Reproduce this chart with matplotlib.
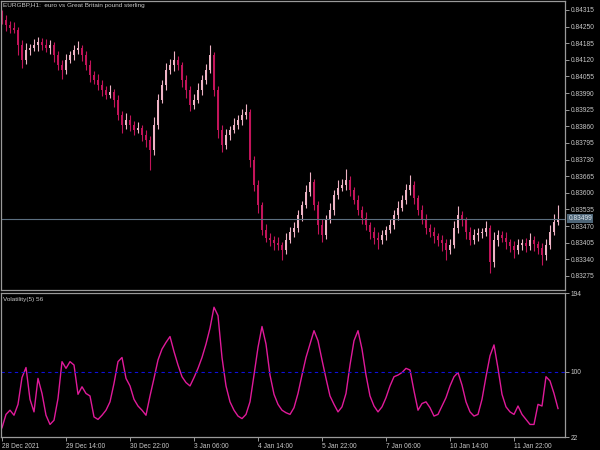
import matplotlib
matplotlib.use("Agg")
import matplotlib.pyplot as plt
import numpy as np

# EURGBP H1 closes, in points (price * 1e5), one value per drawn bar
closes = [84276, 84256, 84245, 84237, 84178, 84119, 84158, 84166, 84178, 84190,
          84178, 84166, 84178, 84139, 84100, 84080, 84119, 84139, 84158, 84166,
          84139, 84100, 84061, 84041, 84022, 84002, 83983, 83994, 83963, 83904,
          83865, 83885, 83865, 83846, 83854, 83826, 83807, 83767, 83865, 83963,
          84022, 84080, 84100, 84119, 84100, 84041, 84002, 83943, 83963, 84002,
          84041, 84080, 84139, 84002, 83846, 83787, 83826, 83846, 83865, 83885,
          83904, 83916, 83728, 83631, 83552, 83455, 83423, 83416, 83404, 83396,
          83376, 83416, 83447, 83463, 83513, 83552, 83603, 83642, 83552, 83474,
          83435, 83494, 83533, 83592, 83619, 83631, 83650, 83611, 83572, 83533,
          83502, 83474, 83447, 83423, 83416, 83435, 83455, 83474, 83513, 83541,
          83572, 83611, 83631, 83580, 83533, 83494, 83463, 83447, 83431, 83416,
          83404, 83376, 83396, 83463, 83513, 83494, 83447, 83416, 83435, 83443,
          83447, 83463, 83330, 83416, 83435, 83423, 83408, 83392, 83376, 83396,
          83404, 83392, 83416, 83400, 83384, 83357, 83396, 83447, 83486, 83499]
first_open = 84290
upper_wick = [25, 20, 16, 24, 12, 20, 28, 16, 24, 20,
              16, 24, 20, 12, 16, 20, 24, 16, 20, 28,
              12, 16, 20, 16, 24, 20, 16, 28, 12, 20,
              16, 28, 20, 16, 24, 12, 20, 16, 32, 24,
              20, 28, 24, 36, 16, 12, 20, 16, 24, 28,
              20, 24, 39, 12, 16, 20, 24, 16, 28, 20,
              24, 32, 12, 16, 20, 12, 24, 20, 16, 24,
              12, 28, 20, 24, 20, 16, 28, 40, 12, 16,
              24, 20, 28, 20, 32, 24, 44, 16, 12, 20,
              16, 24, 12, 20, 24, 20, 16, 24, 20, 28,
              20, 24, 40, 16, 12, 20, 24, 16, 20, 12,
              20, 16, 24, 28, 36, 16, 12, 20, 24, 20,
              16, 28, 12, 32, 20, 16, 24, 12, 20, 24,
              16, 20, 28, 16, 12, 20, 24, 28, 32, 53]
lower_wick = [16, 24, 20, 12, 40, 32, 16, 20, 12, 24,
              20, 16, 24, 28, 20, 36, 16, 12, 20, 16,
              24, 20, 28, 16, 20, 24, 16, 12, 28, 20,
              32, 16, 24, 20, 12, 24, 28, 78, 20, 16,
              12, 20, 16, 24, 20, 28, 32, 24, 16, 12,
              20, 16, 12, 24, 32, 28, 16, 20, 12, 16,
              20, 16, 28, 24, 32, 20, 16, 24, 28, 20,
              40, 16, 12, 20, 16, 24, 12, 16, 20, 36,
              28, 16, 12, 20, 16, 12, 20, 24, 16, 20,
              24, 20, 28, 24, 36, 16, 20, 12, 16, 20,
              12, 16, 20, 24, 20, 16, 24, 20, 28, 24,
              32, 40, 16, 12, 20, 24, 28, 20, 16, 24,
              20, 16, 43, 20, 24, 16, 28, 24, 32, 16,
              20, 24, 16, 28, 24, 39, 20, 16, 12, 12]

# Volatility(5) indicator values, one per bar
volatility = [33, 49, 54, 48, 61, 93, 105, 67, 52, 92,
              74, 48, 37, 42, 68, 112, 104, 112, 108, 73,
              82, 74, 71, 46, 43, 48, 54, 64, 86, 112,
              117, 92, 83, 67, 59, 54, 48, 71, 92, 114,
              127, 135, 142, 124, 108, 94, 87, 83, 93, 104,
              117, 133, 152, 177, 167, 117, 83, 64, 54, 47,
              44, 49, 64, 96, 129, 154, 133, 96, 73, 61,
              54, 51, 49, 57, 74, 96, 117, 133, 149, 137,
              114, 92, 71, 61, 52, 58, 74, 108, 137, 149,
              127, 96, 71, 59, 52, 58, 69, 83, 94, 96,
              99, 104, 102, 77, 54, 62, 64, 57, 47, 49,
              59, 69, 83, 94, 99, 84, 64, 52, 47, 49,
              67, 94, 119, 132, 104, 73, 58, 52, 49, 59,
              49, 43, 37, 37, 61, 59, 94, 89, 74, 56]
vol_level = 100

price_ticks = [0.84315, 0.84250, 0.84185, 0.84120, 0.84055, 0.83990, 0.83925, 0.83860,
               0.83795, 0.83730, 0.83665, 0.83600, 0.83535, 0.83470, 0.83405, 0.83340, 0.83275]
time_labels = ["28 Dec 2021", "29 Dec 14:00", "30 Dec 22:00", "3 Jan 06:00", "4 Jan 14:00",
               "5 Jan 22:00", "7 Jan 06:00", "10 Jan 14:00", "11 Jan 22:00"]
current_price = 0.83499

closes = np.array(closes) / 1e5
opens = np.concatenate([[first_open / 1e5], closes[:-1]])
highs = np.maximum(opens, closes) + np.array(upper_wick) / 1e5
lows = np.minimum(opens, closes) - np.array(lower_wick) / 1e5
idx = np.arange(len(closes))

bull_col = "#eeb3c5"
bear_col = "#c2145a"
txt_col = "#c8c8c8"
axis_col = "#9a9a9a"
fnt = "Liberation Sans"

fig = plt.figure(figsize=(6, 4.5), dpi=100, facecolor="black")
ax = fig.add_axes([1 / 600, 1 - 290 / 450, 564 / 600, 289 / 450], facecolor="black")
ax2 = fig.add_axes([1 / 600, 1 - 437 / 450, 564 / 600, 144 / 450], facecolor="black")

# candles: wicks then bodies
up = closes >= opens
cols = np.where(up, bull_col, bear_col)
ax.vlines(idx, lows, highs, colors=cols, linewidth=0.8)
body_h = np.abs(closes - opens)
body_h = np.maximum(body_h, 0.000015)
ax.bar(idx, body_h, bottom=np.minimum(opens, closes), width=0.5, color=cols, linewidth=0)

ax.axhline(current_price, color="#5c6f80", linewidth=0.8)
ax.set_xlim(-0.25, 140.75)
ax.set_ylim(0.83220, 0.84350)
ax.set_yticks(price_ticks)
ax.set_yticklabels([f"{p:.5f}" for p in price_ticks])
ax.yaxis.tick_right()
ax.set_xticks([])
ax.text(0.004, 0.992, "EURGBP,H1:  euro vs Great Britain pound sterling", transform=ax.transAxes,
        ha="left", va="top", color=txt_col, fontsize=4.6, family=fnt)
ax.text(1.006, current_price, f"{current_price:.5f}", transform=ax.get_yaxis_transform(),
        ha="left", va="center", color="#dfe6ee", fontsize=4.8, family=fnt,
        bbox=dict(boxstyle="square,pad=0.15", fc="#4e6678", ec="none"))

ax2.plot(idx, volatility, color="#e01a9a", linewidth=1.0)
ax2.axhline(vol_level, color="#1010d8", linewidth=0.8, linestyle=(0, (3, 3)))
ax2.set_xlim(-0.25, 140.75)
ax2.set_ylim(22, 194)
ax2.set_yticks([194, vol_level, 22])
ax2.yaxis.tick_right()
ax2.set_xticks(np.arange(len(time_labels)) * 16)
ax2.set_xticklabels(time_labels, ha="left")
ax2.text(0.004, 0.975, f"Volatility(5) {volatility[-1]}", transform=ax2.transAxes,
         ha="left", va="top", color=txt_col, fontsize=4.6, family=fnt)

for a in (ax, ax2):
    for s in a.spines.values():
        s.set_color(axis_col)
        s.set_linewidth(0.9)
    a.tick_params(colors=axis_col, labelcolor=txt_col, labelsize=4.8, length=3, width=0.7, pad=1)
    for lab in a.get_yticklabels() + a.get_xticklabels():
        lab.set_family(fnt)

fig.savefig("out.png", dpi=100, facecolor="black")
